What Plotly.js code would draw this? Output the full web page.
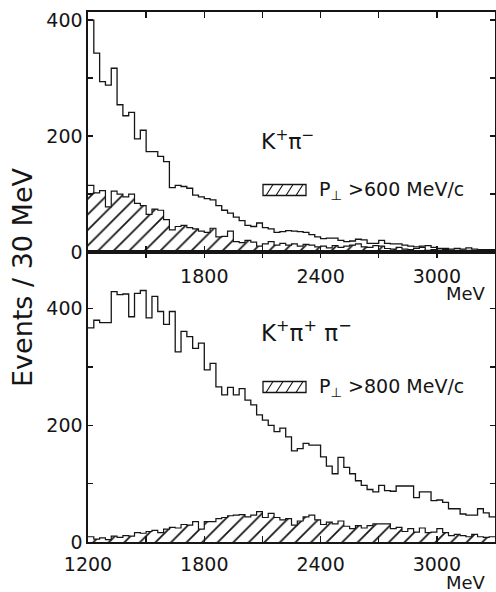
<!DOCTYPE html>
<html><head><meta charset="utf-8">
<script src="https://cdn.plot.ly/plotly-3.0.1.min.js"></script>
<style>html,body{margin:0;padding:0;background:#fff;}</style>
</head><body>
<div id="chart" style="width:496px;height:592px;"></div>
<script>
// ---- data (events / 30 MeV), bins start at 1200 MeV ----
const binStart = 1200;
const binWidth = 30;
const kpiAll = [400,343,294,288,317,254,235,241,195,210,
  173,173,165,156,111,115,113,110,98,95,
  92,90,80,72,67,60,54,46,44,50,
  42,40,34,35,37,36,35,34,30,26,
  23,24,24,20,18,19,22,21,15,15,
  20,15,14,14,12,10,9,10,11,8,
  6,6,5,6,5,7,5,4,4,4];
const kpiHighPt = [115,102,106,78,105,100,95,100,84,80,
  65,74,72,56,38,44,46,42,40,36,
  34,41,26,27,36,18,16,20,17,10,
  14,18,12,15,12,14,10,13,12,9,
  10,7,11,8,10,12,14,9,8,11,
  10,6,5,8,5,4,6,8,3,4,
  3,4,3,2,3,3,2,3,2,2];
const kppAll = [367,380,376,376,429,424,425,386,426,431,
  384,421,395,373,395,326,361,352,332,341,
  295,306,266,252,265,252,263,243,235,218,
  209,200,189,195,180,156,160,169,166,166,
  146,130,117,145,128,117,105,97,90,86,
  97,88,87,96,96,96,76,86,86,71,
  72,68,57,57,48,46,46,57,50,43];
const kppHighPt = [9,5,7,4,10,8,11,10,16,15,
  18,20,16,22,25,24,30,29,35,22,
  35,35,40,42,45,46,47,43,46,52,
  42,49,42,38,40,29,36,43,46,38,
  30,34,31,36,27,23,28,24,28,31,
  31,31,23,25,18,23,17,24,16,17,
  23,16,11,13,11,9,13,9,8,9];
const xTickVals = [1200,1500,1800,2100,2400,2700,3000,3300];
const topXTickText = ['', '', '1800', '', '2400', '', '3000', ''];
const botXTickText = ['1200', '', '1800', '', '2400', '', '3000', ''];
const yTickVals = [0,100,200,300,400];
const yTickText = ['0', '', '200', '', '400'];
const topLabel = 'K<sup>+</sup>π<sup>−</sup>';
const botLabel = 'K<sup>+</sup>π<sup>+</sup> π<sup>−</sup>';
const topCut = 'P<sub>⊥</sub> >600 MeV/c';
const botCut = 'P<sub>⊥</sub> >800 MeV/c';

// ---- helpers ----
function stepX(vals){ const x=[]; for(let i=0;i<=vals.length;i++) x.push(binStart+i*binWidth); return x; }
function stepY(vals){ return vals.concat([vals[vals.length-1]]); }

const W = 496, H = 592, ML = 88, MR = 1, MT = 12, MB = 50;
const PW = W - ML - MR, PH = H - MT - MB;
const px = x => (x - ML) / PW;          // pixel -> paper
const py = y => (H - MB - y) / PH;

const ink = '#151515';
const FONT = 'DejaVu Sans';
const pattern = {shape:'/', size:11, solidity:0.16, fgcolor:ink, bgcolor:'rgba(0,0,0,0)'};

function outer(vals, xa, ya){
  return {type:'scatter', mode:'lines', x:stepX(vals), y:stepY(vals), xaxis:xa, yaxis:ya,
    line:{shape:'hv', color:ink, width:1.3}, showlegend:false, hoverinfo:'skip'};
}
function hatched(vals, xa, ya, name){
  return {type:'scatter', mode:'lines', x:stepX(vals), y:stepY(vals), xaxis:xa, yaxis:ya,
    line:{shape:'hv', color:ink, width:1.2}, fill:'tozeroy', fillcolor:'rgba(0,0,0,0)',
    fillpattern:pattern, name:name, showlegend:false, hoverinfo:'skip'};
}

const data = [
  outer(kpiAll,'x2','y2'),
  hatched(kpiHighPt,'x2','y2',topCut),
  outer(kppAll,'x','y'),
  hatched(kppHighPt,'x','y',botCut)
];

// legend key (hatched box) drawn as layout shapes
function keyShapes(cy){
  const x0 = 263, x1 = 306, y0 = cy - 5.5, y1 = cy + 5.5;
  const shapes = [{type:'rect', xref:'paper', yref:'paper', x0:px(x0), x1:px(x1), y0:py(y1), y1:py(y0),
    line:{color:ink, width:1.3}, fillcolor:'rgba(0,0,0,0)'}];
  let d = '';
  for (let xb = x0 + 3; xb < x1; xb += 10) {
    const xt = Math.min(xb + 7, x1);
    const yt = xb + 7 <= x1 ? y0 : y1 - (x1 - xb) * (11 / 7);
    d += `M${px(xb)},${py(y1)}L${px(xt)},${py(yt)}`;
  }
  shapes.push({type:'path', xref:'paper', yref:'paper', path:d, line:{color:ink, width:1.1}});
  return shapes;
}

const split = (542-252)/PH;
const axBase = {showline:true, linecolor:ink, linewidth:1.6, ticks:'inside', tickcolor:ink,
  tickwidth:1.4, showgrid:false, zeroline:false, mirror:'ticks',
  tickfont:{family:FONT, size:19, color:ink}};

const txt = (text, x, y, size, xanchor, extra) => Object.assign({text:text, xref:'paper', yref:'paper',
  x:px(x), y:py(y), xanchor:xanchor, yanchor:'middle', showarrow:false,
  font:{family:FONT, size:size, color:ink}}, extra || {});

const layout = {
  width:W, height:H,
  margin:{l:ML, r:MR, t:MT, b:MB},
  paper_bgcolor:'#fff', plot_bgcolor:'#fff',
  font:{family:FONT, color:ink},
  showlegend:false,
  xaxis:Object.assign({}, axBase, {anchor:'y', domain:[0,1], range:[1200,3300],
    tickmode:'array', tickvals:xTickVals, ticktext:botXTickText, ticklen:6, ticklabelstandoff:5}),
  xaxis2:Object.assign({}, axBase, {anchor:'y2', domain:[0,1], range:[1200,3300],
    tickmode:'array', tickvals:xTickVals, ticktext:topXTickText, ticklen:6, ticklabelstandoff:7}),
  yaxis:Object.assign({}, axBase, {anchor:'x', domain:[0,split], range:[0,497],
    tickmode:'array', tickvals:yTickVals, ticktext:yTickText, ticklen:5}),
  yaxis2:Object.assign({}, axBase, {anchor:'x2', domain:[split,1], range:[0,414],
    tickmode:'array', tickvals:yTickVals, ticktext:yTickText, ticklen:5}),
  shapes: keyShapes(190).concat(keyShapes(387)),
  annotations:[
    txt('Events / 30 MeV', 22, 277, 27, 'center', {textangle:-90}),
    txt('MeV', 466, 293, 18, 'center'),
    txt('MeV', 466, 582, 18, 'center'),
    txt(topLabel, 259, 140, 22, 'left'),
    txt(botLabel, 259, 331, 23, 'left'),
    txt(topCut, 317, 190, 19, 'left'),
    txt(botCut, 317, 387, 19, 'left')
  ]
};

Plotly.newPlot('chart', data, layout, {staticPlot:true, displayModeBar:false});
</script>
</body></html>
